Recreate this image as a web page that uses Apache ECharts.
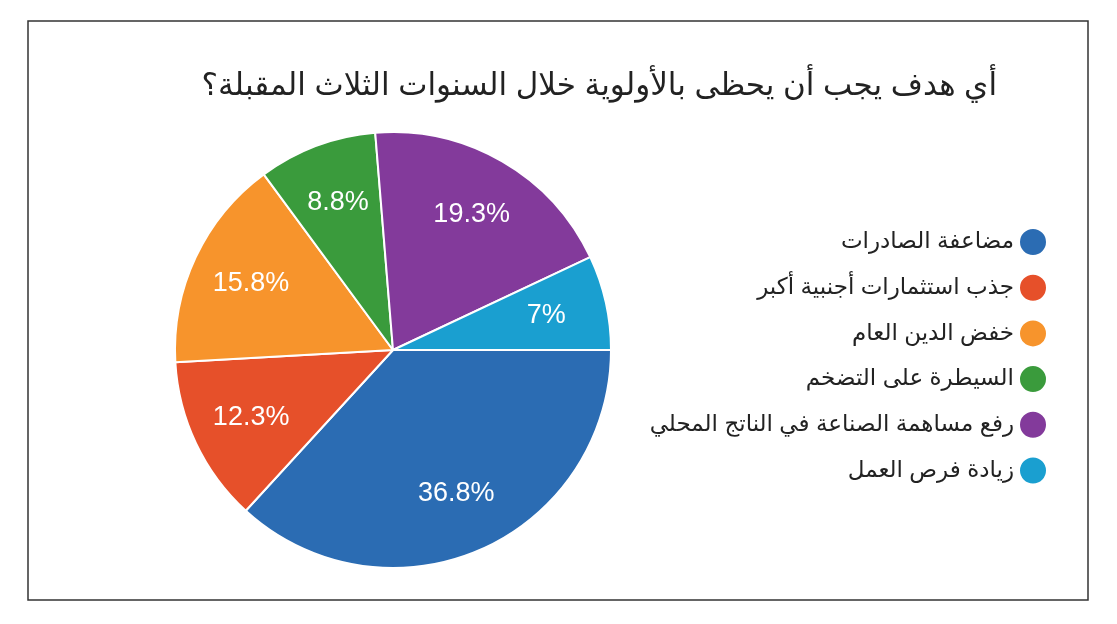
<!DOCTYPE html>
<html>
<head>
<meta charset="utf-8">
<script src="https://cdn.jsdelivr.net/npm/echarts@6/dist/echarts.min.js"></script>
<style>
html,body{margin:0;padding:0;background:#fff;}
#chart{width:1117px;height:624px;}
</style>
</head>
<body>
<div id="chart"></div>
<script>
const titleText = 'أي هدف يجب أن يحظى بالأولوية خلال السنوات الثلاث المقبلة؟';
const categories = [
  'مضاعفة الصادرات',
  'جذب استثمارات أجنبية أكبر',
  'خفض الدين العام',
  'السيطرة على التضخم',
  'رفع مساهمة الصناعة في الناتج المحلي',
  'زيادة فرص العمل'
];
const values = [36.8, 12.3, 15.8, 8.8, 19.3, 7];
const colors = ['#2b6cb3', '#e6502a', '#f7942c', '#3a9b3c', '#833a9b', '#1a9fd0'];

const fontFam = 'Arial, "Liberation Sans", "DejaVu Sans", sans-serif';
const pieData = categories.map((c, i) => ({ name: c, value: values[i] }));

const chart = echarts.init(document.getElementById('chart'));
chart.setOption({
  animation: false,
  color: colors,
  title: {
    text: titleText,
    right: 115,
    top: 66,
    textStyle: { fontFamily: fontFam, fontSize: 31, fontWeight: 'normal', color: '#222' }
  },
  legend: {
    orient: 'vertical',
    right: 64,
    top: 222,
    align: 'right',
    icon: 'circle',
    itemWidth: 28,
    itemHeight: 28,
    itemGap: 15.7,
    data: categories,
    textStyle: { fontFamily: fontFam, fontSize: 23, color: '#222' }
  },
  graphic: [{
    type: 'rect',
    shape: { x: 28, y: 21, width: 1060, height: 579 },
    style: { fill: 'none', stroke: '#333', lineWidth: 1.5 },
    silent: true
  }],
  series: [
    {
      type: 'pie',
      center: [393, 350],
      radius: [0, 218],
      startAngle: 0,
      clockwise: true,
      label: { show: false },
      labelLine: { show: false },
      itemStyle: { borderColor: '#fff', borderWidth: 2 },
      emphasis: { disabled: true },
      data: pieData
    },
    {
      type: 'pie',
      center: [393, 350],
      radius: [90, 218],
      startAngle: 0,
      clockwise: true,
      silent: true,
      itemStyle: { color: 'rgba(0,0,0,0)' },
      label: {
        show: true,
        position: 'inside',
        formatter: '{c}%',
        fontFamily: fontFam,
        fontSize: 27,
        color: '#fff'
      },
      labelLine: { show: false },
      emphasis: { disabled: true },
      data: pieData
    }
  ]
});
</script>
</body>
</html>
